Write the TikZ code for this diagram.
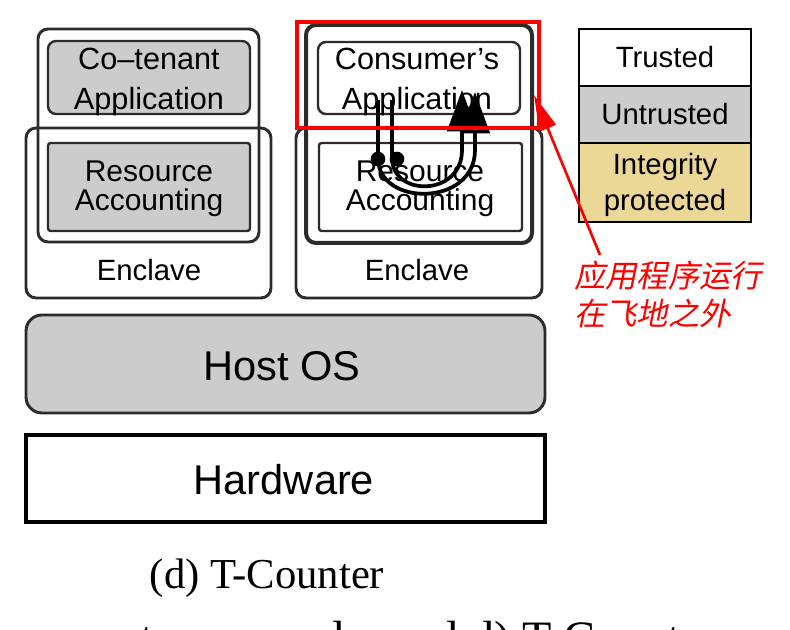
\documentclass[tikz,border=0pt]{standalone}
\usepackage{fontspec}
\setmainfont{Liberation Serif}
\setsansfont{Liberation Sans}
\newfontfamily\cjk[FakeSlant=0.2]{Noto Sans CJK SC}
\usetikzlibrary{arrows.meta}
\definecolor{untr}{HTML}{CCCCCC}
\definecolor{integ}{HTML}{EBD897}
\definecolor{edge}{HTML}{2B2B2B}
\definecolor{mred}{HTML}{FF0000}
\tikzset{
  lbl/.style={font=\sffamily\fontsize{22}{26}\selectfont, align=center, inner sep=0pt},
  applbl/.style={font=\sffamily\fontsize{23}{29.5}\selectfont, align=center, inner sep=0pt},
  ralbl/.style={font=\sffamily\fontsize{22.5}{22}\selectfont, align=center, inner sep=0pt},
  big/.style={font=\sffamily\fontsize{31.2}{34}\selectfont, inner sep=0pt},
  frame/.style={draw=edge, line width=2.2pt, rounded corners=7.5pt},
  thickframe/.style={draw=edge, line width=3pt, rounded corners=7.5pt},
  appbox/.style={draw=edge, line width=1.8pt, rounded corners=6pt},
  rabox/.style={draw=edge, line width=1.8pt, rounded corners=2pt},
  legbox/.style={draw=black, line width=1.7pt},
  flow/.style={draw=black, line width=2.8pt},
  dotc/.style={circle, fill=black, inner sep=0pt, minimum size=11pt}
}
\begin{document}
\begin{tikzpicture}[x=0.75pt,y=-0.75pt]
\useasboundingbox (0,0) rectangle (790,630);
% ---------- left stack ----------
\draw[appbox, fill=untr] (48,41) rectangle (250,114);
\draw[rabox, fill=untr] (48,143) rectangle (250,231);
\draw[frame] (38,29) rectangle (259,242);
\draw[frame] (26,128) rectangle (271,298);
\node[applbl] (cot) at (149,82) {Co\textendash tenant\\Application};
\node[ralbl] (rl) at (149,189) {Resource\\Accounting};
\node[lbl] (el) at (149,270) {Enclave};
% ---------- right stack ----------
\draw[frame] (296,128) rectangle (542,298);
\draw[thickframe, fill=white] (306,25) rectangle (532,243);
\draw[appbox] (318,42) rectangle (520,114);
\draw[rabox] (319,143) rectangle (522,231);
\node[applbl] (ca) at (417,82) {Consumer’s\\Application};
\node[ralbl] (rr) at (420,189) {Resource\\Accounting};
\node[lbl] (er) at (417,270) {Enclave};
% flows
\coordinate (a1) at (378,100);
\coordinate (a2) at (392,100);
\coordinate (b1) at (475,92);
\coordinate (b2) at (462,90);
\draw[flow, -{Triangle[length=31pt,width=22pt]}] (a1) -- (378,158) .. controls (378,207) and (475,207) .. (475,150) -- (b1);
\draw[flow, -{Triangle[length=31pt,width=22pt]}] (a2) -- (392,158) .. controls (392,197) and (462,197) .. (462,150) -- (b2);
\node[dotc] (d1) at (378,159) {};
\node[dotc] (d2) at (397,159) {};
% ---------- host / hardware ----------
\draw[draw=edge, line width=2.2pt, rounded corners=12pt, fill=untr] (26,315) rectangle (545,413);
\node[big] (host) at (282,366) {Host OS};
\draw[draw=black, line width=2.6pt, fill=white] (26,435) rectangle (545,522);
\node[big] (hw) at (284,480) {Hardware};
% ---------- legend ----------
\draw[legbox, fill=white] (579,29) rectangle (751,86);
\draw[legbox, fill=untr] (579,86) rectangle (751,143);
\draw[legbox, fill=integ] (579,143) rectangle (751,222);
\node[lbl] (lt) at (665,57) {Trusted};
\node[lbl] (lu) at (665,114) {Untrusted};
\node[font=\sffamily\fontsize{22}{26.5}\selectfont, align=center, inner sep=0pt] (li) at (665,185) {Integrity\\protected};
% ---------- red annotation ----------
\draw[draw=mred, line width=2.4pt] (297,22) rectangle (539,128);
\node[font=\cjk\fontsize{23.5}{28}\selectfont, text=mred, align=left, anchor=north west, inner sep=0pt] (note) at (574,261) {应用程序运行\\在飞地之外};
\coordinate (tip) at (534,95);
\draw[draw=mred, line width=2pt, -{Triangle[length=27pt,width=13pt]}] (600,255) -- (tip);
% ---------- caption ----------
\node[font=\fontsize{32}{36}\selectfont, anchor=base, inner sep=0pt] (cap) at (267,589) {(d) T-Counter};
\begin{scope}
\clip (0,0) rectangle (790,630);
\node[font=\fontsize{36}{40}\selectfont, anchor=base west, inner sep=0pt] (cut) at (140,655) {t on a rand a and d) T-Counter};
\end{scope}
\end{tikzpicture}
\end{document}
